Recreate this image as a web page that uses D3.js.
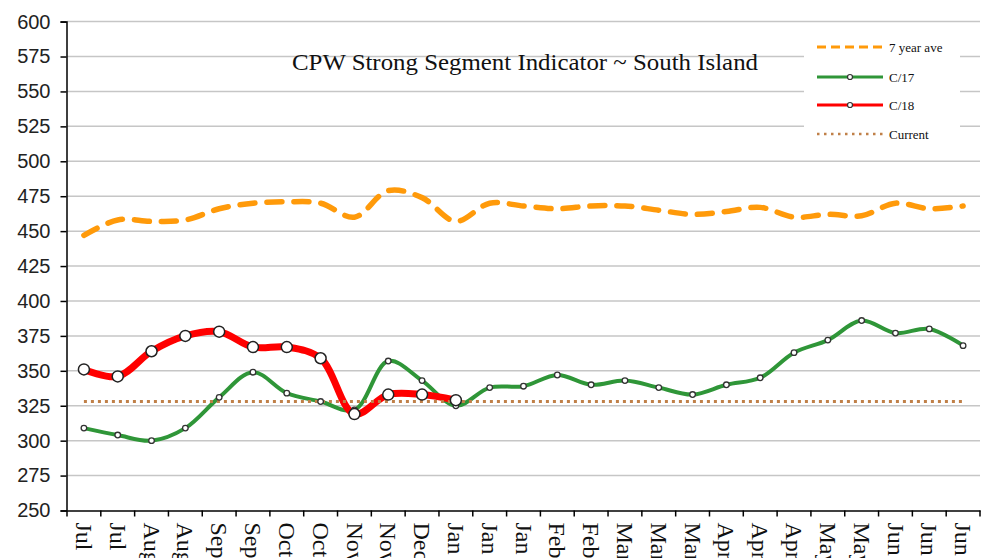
<!DOCTYPE html>
<html><head><meta charset="utf-8">
<script src="https://cdn.jsdelivr.net/npm/d3@7"></script>
<style>body{margin:0;background:#fff}svg{display:block}</style>
</head><body>
<svg id="c" width="986" height="558"></svg>
<script>
const categories = ["Jul","Jul","Aug","Aug","Sep","Sep","Oct","Oct","Nov","Nov","Dec","Jan","Jan","Jan","Feb","Feb","Mar","Mar","Mar","Apr","Apr","Apr","May","May","Jun","Jun","Jun"];
const avg7 = [447,458,457,458,466,470,471,470,460,479,474,457,470,468,466,468,468,465,462,464,467,460,462,461,470,466,468];
const c17 = [309,304,300,309,331,349,334,328,322,357,343,325,338,339,347,340,343,338,333,340,345,363,372,386,377,380,368];
const c18 = [351,346,364,375,378,367,367,359,319,333,333,329];
const currentVal = 328;
const yTicks = [250,275,300,325,350,375,400,425,450,475,500,525,550,575,600];
const title = "CPW Strong Segment Indicator ~ South Island";
const legendItems = ["7 year ave","C/17","C/18","Current"];

const svg = d3.select("#c");
const L = 67, R = 980, T = 21.6, B = 510.5;
const x = d3.scaleBand().domain(d3.range(categories.length)).range([L, R]);
const cx = i => x(i) + x.bandwidth()/2;
const y = d3.scaleLinear().domain([250,600]).range([B, T]);

// gridlines
svg.append("g").selectAll("line").data(yTicks.filter(v=>v>250)).join("line")
  .attr("x1", L).attr("x2", R).attr("y1", d=>y(d)).attr("y2", d=>y(d))
  .attr("stroke", "#c6c6c6").attr("stroke-width", 1.5);

// legend background (hides gridlines)
svg.append("rect").attr("x", 804).attr("y", 30).attr("width", 156).attr("height", 122).attr("fill", "#fff");

// axes
const yAxis = d3.axisLeft(y).tickValues(yTicks).tickSize(6).tickPadding(10);
const gy = svg.append("g").attr("transform", `translate(${L-0.5},0)`).call(yAxis);
gy.select(".domain").attr("stroke", "#000").attr("stroke-width", 1.5);
gy.selectAll(".tick line").attr("stroke", "#000").attr("stroke-width", 1.5);
gy.selectAll("text").attr("font-family", "Liberation Sans, Arial, sans-serif").attr("font-size", 20).attr("fill", "#222");

const xAxis = d3.axisBottom(x).tickSize(0).tickFormat(i => categories[i]);
const gx = svg.append("g").attr("transform", `translate(0,${B})`).call(xAxis);
gx.select(".domain").attr("stroke", "#000").attr("stroke-width", 1.5);
gx.selectAll(".tick text")
  .attr("font-family", "Liberation Serif, 'Times New Roman', serif").attr("font-size", 24).attr("fill", "#111")
  .attr("text-anchor", "start")
  .attr("transform", "translate(0,12) rotate(90)")
  .attr("x", 0).attr("y", 0).attr("dy", "0.33em");
// boundary tick marks
svg.append("g").selectAll("line").data(d3.range(categories.length+1)).join("line")
  .attr("x1", i => L + i*x.step()).attr("x2", i => L + i*x.step())
  .attr("y1", B).attr("y2", B+6).attr("stroke", "#000").attr("stroke-width", 1.5);

const curve = d3.curveCatmullRom.alpha(0.5);
const line = d3.line().x((d,i)=>cx(i)).y(d=>y(d)).curve(curve);

// 7 year ave
svg.append("path").attr("d", line(avg7)).attr("fill","none")
  .attr("stroke","#ff9a0a").attr("stroke-width",5.5).attr("stroke-dasharray","15 12").attr("stroke-linecap","round");
// C/17
svg.append("path").attr("d", line(c17)).attr("fill","none")
  .attr("stroke","#2f9638").attr("stroke-width",4);
// C/18
svg.append("path").attr("d", line(c18)).attr("fill","none")
  .attr("stroke","#ff0000").attr("stroke-width",7);
// Current
svg.append("line").attr("x1", cx(0)).attr("x2", cx(categories.length-1))
  .attr("y1", y(currentVal)).attr("y2", y(currentVal))
  .attr("stroke","#c08048").attr("stroke-width",3).attr("stroke-dasharray","3 4");

// markers
svg.append("g").selectAll("circle").data(c17).join("circle")
  .attr("cx",(d,i)=>cx(i)).attr("cy",d=>y(d)).attr("r",2.8)
  .attr("fill","#fff").attr("stroke","#333").attr("stroke-width",1.3);
svg.append("g").selectAll("circle").data(c18).join("circle")
  .attr("cx",(d,i)=>cx(i)).attr("cy",d=>y(d)).attr("r",5.5)
  .attr("fill","#fff").attr("stroke","#222").attr("stroke-width",1.5);

// title
svg.append("text").attr("x", 525).attr("y", 70).attr("text-anchor","middle")
  .attr("font-family","Liberation Serif, 'Times New Roman', serif").attr("font-size",23).attr("fill","#111")
  .attr("textLength", 466).attr("lengthAdjust","spacingAndGlyphs")
  .text(title);

// legend
const lg = svg.append("g").attr("font-family","Liberation Serif, 'Times New Roman', serif").attr("font-size",13).attr("fill","#111");
const rowsY = [47, 77, 105, 134];
const lx1 = 817, lx2 = 883;
lg.append("line").attr("x1",lx1).attr("x2",lx2).attr("y1",rowsY[0]).attr("y2",rowsY[0])
  .attr("stroke","#ff9a0a").attr("stroke-width",3).attr("stroke-dasharray","9 5");
lg.append("line").attr("x1",lx1).attr("x2",lx2).attr("y1",rowsY[1]).attr("y2",rowsY[1])
  .attr("stroke","#2f9638").attr("stroke-width",3);
lg.append("circle").attr("cx",(lx1+lx2)/2).attr("cy",rowsY[1]).attr("r",2.5).attr("fill","#fff").attr("stroke","#333").attr("stroke-width",1.2);
lg.append("line").attr("x1",lx1).attr("x2",lx2).attr("y1",rowsY[2]).attr("y2",rowsY[2])
  .attr("stroke","#ff0000").attr("stroke-width",3);
lg.append("circle").attr("cx",(lx1+lx2)/2).attr("cy",rowsY[2]).attr("r",2.5).attr("fill","#fff").attr("stroke","#333").attr("stroke-width",1.2);
lg.append("line").attr("x1",lx1).attr("x2",lx2).attr("y1",rowsY[3]).attr("y2",rowsY[3])
  .attr("stroke","#c08048").attr("stroke-width",2.5).attr("stroke-dasharray","2.5 4.5");
lg.selectAll("text.l").data(legendItems).join("text").attr("class","l")
  .attr("x", 889).attr("y",(d,i)=>rowsY[i]).attr("dy","0.35em").text(d=>d);
</script>
</body></html>
